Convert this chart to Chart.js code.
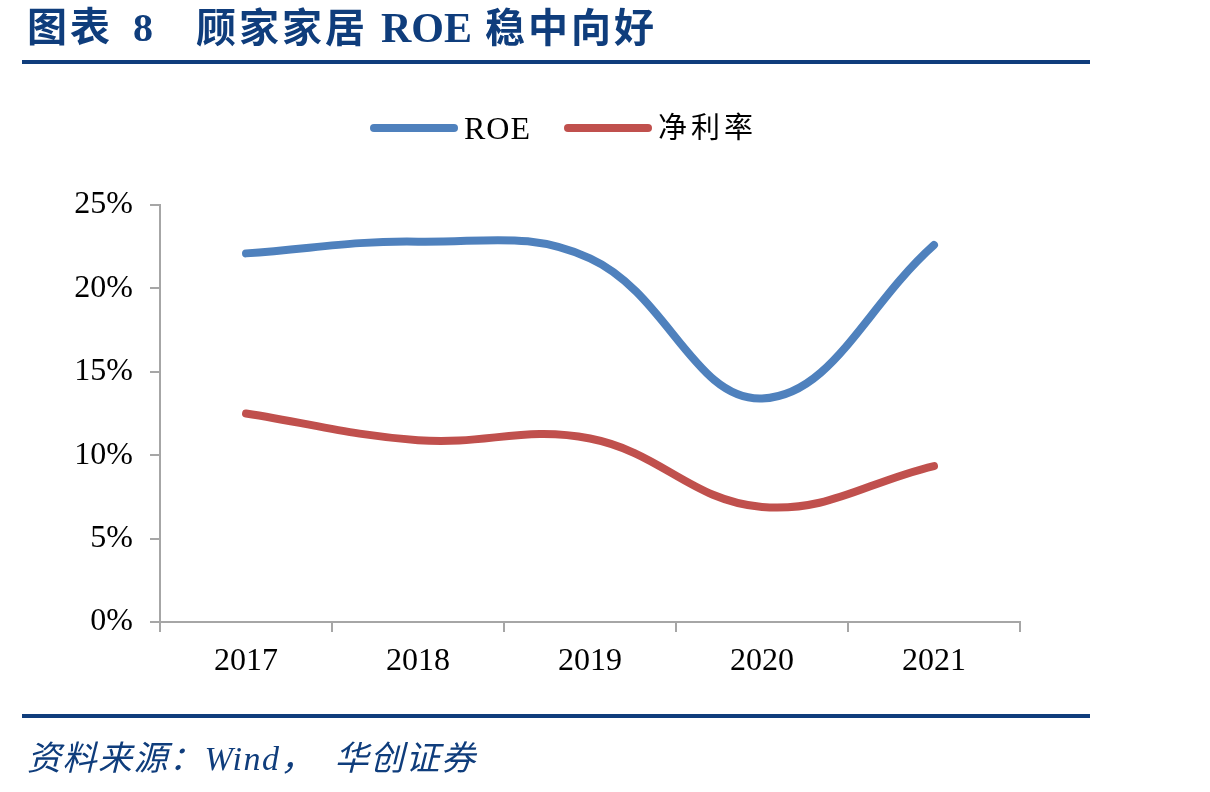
<!DOCTYPE html>
<html>
<head>
<meta charset="utf-8">
<script src="https://cdn.jsdelivr.net/npm/chart.js@4/dist/chart.umd.min.js"></script>
<style>
  html, body { margin: 0; padding: 0; background: #fff; }
  body { width: 1210px; height: 792px; position: relative; overflow: hidden; }
  .title {
    position: absolute; top: 8px; line-height: 40px;
    font-family: "Liberation Serif", "Noto Sans CJK SC", serif;
    font-weight: bold; font-size: 40px; color: #0f3d7c; white-space: pre;
    letter-spacing: 3px;
  }
  .title .latin { font-size: 42px; letter-spacing: 0; }
  .rule { position: absolute; left: 22px; width: 1068px; height: 4px; background: #0f3d7c; }
  #source {
    position: absolute; left: 27px; top: 741px; line-height: 36px;
    font-family: "Liberation Serif", "Noto Sans CJK SC", serif;
    font-style: italic; font-size: 34px; color: #0f3d7c; white-space: pre;
    letter-spacing: 1.5px;
  }
  #wrap { position: absolute; left: 0; top: 0; width: 1210px; height: 792px; }
  #legend { position: absolute; left: 370px; top: 110px; height: 36px; display: flex; align-items: center; }
  #legend .item { display: flex; align-items: center; margin-right: 33px; }
  #legend .swatch { width: 88px; height: 8px; border-radius: 4px; margin-right: 6px; }
  #legend .text {
    font-family: "Liberation Serif", "Noto Sans CJK SC", serif;
    font-size: 32px; color: #000; line-height: 36px; letter-spacing: 1px;
  }
</style>
</head>
<body>
<div id="wrap"><canvas id="chart"></canvas></div>
<div class="title" style="left:27px">图表</div>
<div class="title" style="left:133px">8</div>
<div class="title" style="left:196px">顾家家居 <span class="latin">ROE</span> 稳中向好</div>
<div class="rule" style="top:60px"></div>
<div class="rule" style="top:714px"></div>
<div id="legend"></div>
<div id="source">资料来源：Wind，　华创证券</div>
<script>
const years = ['2017', '2018', '2019', '2020', '2021'];
const roe = [22.1, 22.8, 21.8, 13.4, 22.6];
const netMargin = [12.5, 10.9, 11.0, 6.9, 9.35];
const yTicks = [0, 5, 10, 15, 20, 25];

const axisGray = '#a6a6a6';
const tickFont = { family: '"Liberation Serif", "Times New Roman", serif', size: 32 };

function buildLegend(chart) {
    const box = document.getElementById('legend');
    chart.data.datasets.forEach(ds => {
        const item = document.createElement('div');
        item.className = 'item';
        const sw = document.createElement('span');
        sw.className = 'swatch';
        sw.style.background = ds.borderColor;
        const txt = document.createElement('span');
        txt.className = 'text';
        txt.textContent = ds.label;
        if (/[^\x00-\x7f]/.test(ds.label)) {
            txt.style.fontSize = '29px';
            txt.style.letterSpacing = '4px';
        }
        item.appendChild(sw);
        item.appendChild(txt);
        box.appendChild(item);
    });
}

function renderChart() {
    const ctx = document.getElementById('chart').getContext('2d');
    const chart = new Chart(ctx, {
        type: 'line',
        data: {
            labels: years,
            datasets: [
                {
                    label: 'ROE',
                    data: roe,
                    borderColor: '#4f81bd',
                    backgroundColor: '#4f81bd',
                    borderWidth: 8,
                    borderCapStyle: 'round',
                    tension: 0.4,
                    pointRadius: 0
                },
                {
                    label: '净利率',
                    data: netMargin,
                    borderColor: '#c0504d',
                    backgroundColor: '#c0504d',
                    borderWidth: 8,
                    borderCapStyle: 'round',
                    tension: 0.4,
                    pointRadius: 0
                }
            ]
        },
        options: {
            responsive: true,
            maintainAspectRatio: false,
            animation: false,
            layout: { padding: { left: 70, right: 190, top: 205, bottom: 110 } },
            plugins: {
                tooltip: { enabled: false },
                legend: { display: false }
            },
            scales: {
                x: {
                    offset: true,
                    afterFit: s => { s.height = 60; },
                    grid: {
                        offset: true,
                        drawOnChartArea: false,
                        tickLength: 10,
                        color: axisGray,
                        lineWidth: 2
                    },
                    border: { color: axisGray, width: 2 },
                    ticks: { color: '#000', font: tickFont, padding: 10, maxRotation: 0 }
                },
                y: {
                    min: 0,
                    max: 25,
                    afterFit: s => { s.width = 90; },
                    afterBuildTicks: s => { s.ticks = yTicks.map(v => ({ value: v })); },
                    grid: {
                        drawOnChartArea: false,
                        tickLength: 10,
                        color: axisGray,
                        lineWidth: 2
                    },
                    border: { color: axisGray, width: 2 },
                    ticks: { color: '#000', font: tickFont, padding: 17, callback: v => v + '%' }
                }
            }
        }
    });
    buildLegend(chart);
}

document.addEventListener('DOMContentLoaded', renderChart);
</script>
</body>
</html>
